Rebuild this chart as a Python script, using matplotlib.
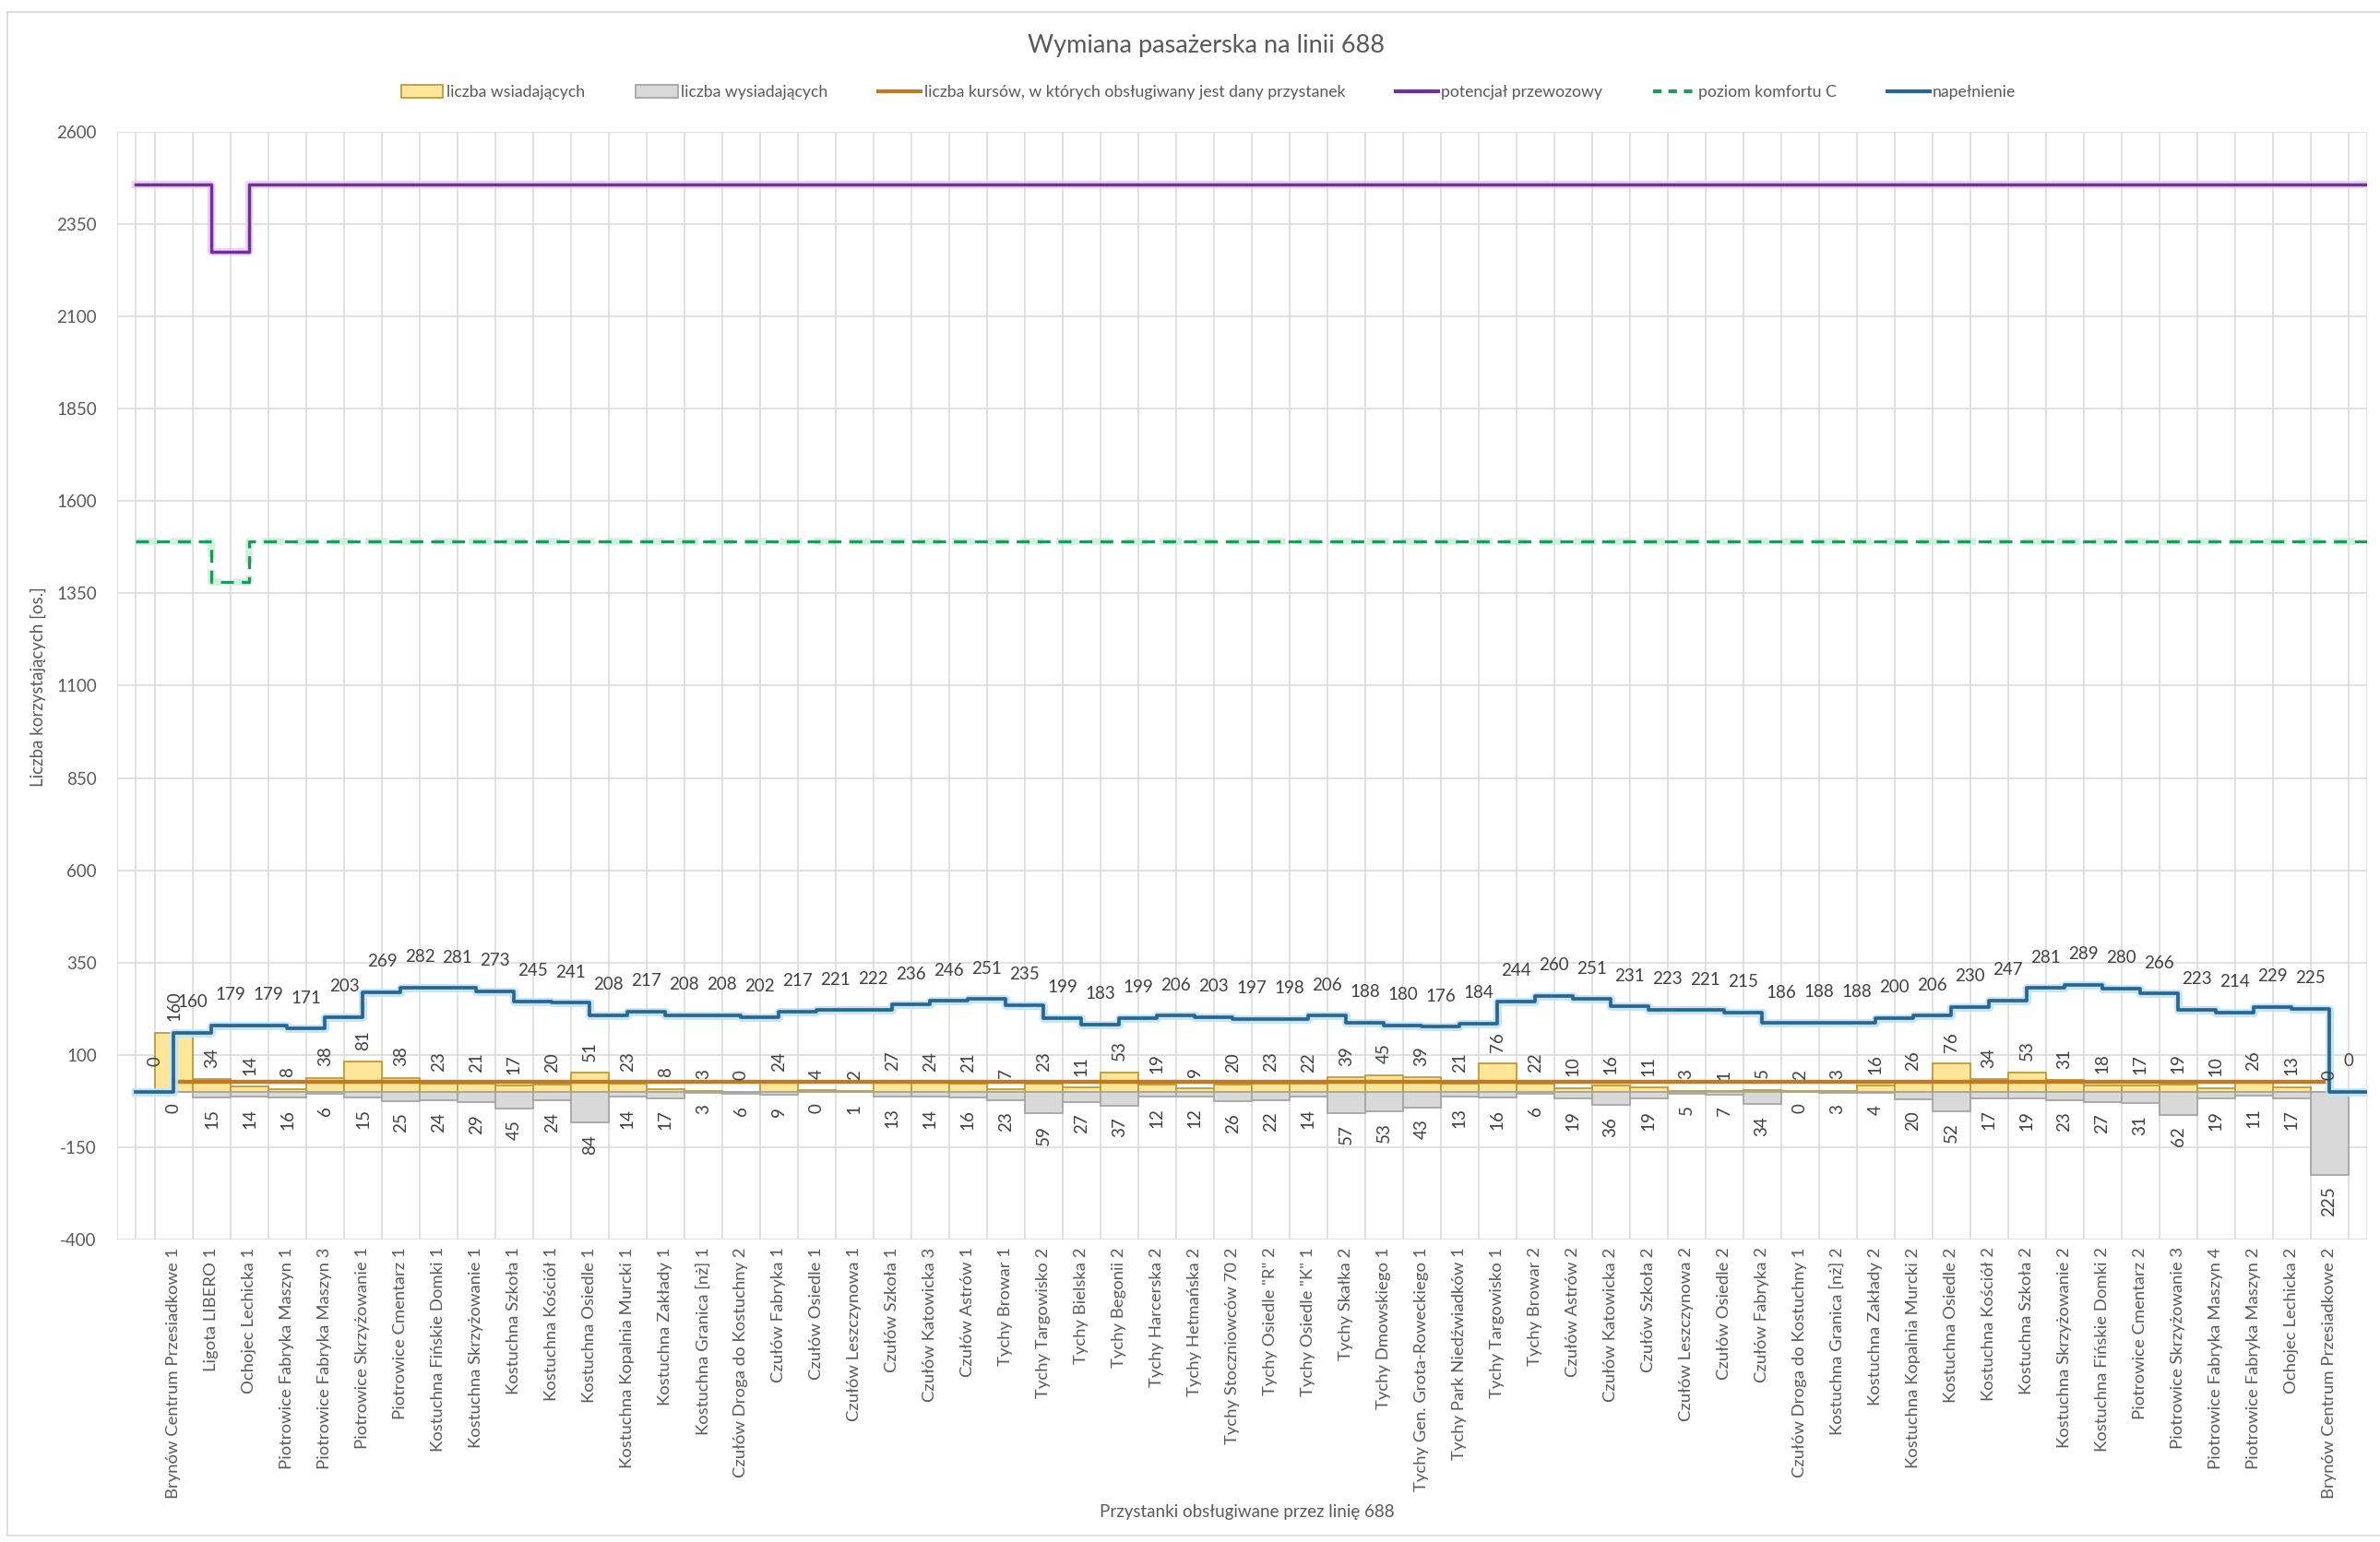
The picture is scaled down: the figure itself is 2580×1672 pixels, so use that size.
import matplotlib
matplotlib.use('Agg')
import matplotlib.pyplot as plt
import numpy as np
from matplotlib.patches import Patch
from matplotlib.lines import Line2D

plt.rcParams['font.family'] = ['Lato', 'DejaVu Sans']

# ---------------- DATA ----------------
przystanki = [
    "Brynów Centrum Przesiadkowe 1", "Ligota LIBERO 1", "Ochojec Lechicka 1",
    "Piotrowice Fabryka Maszyn 1", "Piotrowice Fabryka Maszyn 3", "Piotrowice Skrzyżowanie 1",
    "Piotrowice Cmentarz 1", "Kostuchna Fińskie Domki 1", "Kostuchna Skrzyżowanie 1",
    "Kostuchna Szkoła 1", "Kostuchna Kościół 1", "Kostuchna Osiedle 1",
    "Kostuchna Kopalnia Murcki 1", "Kostuchna Zakłady 1", "Kostuchna Granica [nż] 1",
    "Czułów Droga do Kostuchny 2", "Czułów Fabryka 1", "Czułów Osiedle 1",
    "Czułów Leszczynowa 1", "Czułów Szkoła 1", "Czułów Katowicka 3",
    "Czułów Astrów 1", "Tychy Browar 1", "Tychy Targowisko 2",
    "Tychy Bielska 2", "Tychy Begonii 2", "Tychy Harcerska 2",
    "Tychy Hetmańska 2", "Tychy Stoczniowców 70 2", "Tychy Osiedle \"R\" 2",
    "Tychy Osiedle \"K\" 1", "Tychy Skałka 2", "Tychy Dmowskiego 1",
    "Tychy Gen. Grota-Roweckiego 1", "Tychy Park Niedźwiadków 1", "Tychy Targowisko 1",
    "Tychy Browar 2", "Czułów Astrów 2", "Czułów Katowicka 2",
    "Czułów Szkoła 2", "Czułów Leszczynowa 2", "Czułów Osiedle 2",
    "Czułów Fabryka 2", "Czułów Droga do Kostuchny 1", "Kostuchna Granica [nż] 2",
    "Kostuchna Zakłady 2", "Kostuchna Kopalnia Murcki 2", "Kostuchna Osiedle 2",
    "Kostuchna Kościół 2", "Kostuchna Szkoła 2", "Kostuchna Skrzyżowanie 2",
    "Kostuchna Fińskie Domki 2", "Piotrowice Cmentarz 2", "Piotrowice Skrzyżowanie 3",
    "Piotrowice Fabryka Maszyn 4", "Piotrowice Fabryka Maszyn 2", "Ochojec Lechicka 2",
    "Brynów Centrum Przesiadkowe 2",
]

wsiadajacy = [160, 34, 14, 8, 38, 81, 38, 23, 21, 17, 20, 51, 23, 8, 3,
              0, 24, 4, 2, 27, 24, 21, 7, 23, 11, 53, 19, 9, 20, 23,
              22, 39, 45, 39, 21, 76, 22, 10, 16, 11, 3, 1, 5, 2, 3,
              16, 26, 76, 34, 53, 31, 18, 17, 19, 10, 26, 13, 0]

wysiadajacy = [0, 15, 14, 16, 6, 15, 25, 24, 29, 45, 24, 84, 14, 17, 3,
               6, 9, 0, 1, 13, 14, 16, 23, 59, 27, 37, 12, 12, 26, 22,
               14, 57, 53, 43, 13, 16, 6, 19, 36, 19, 5, 7, 34, 0, 3,
               4, 20, 52, 17, 19, 23, 27, 31, 62, 19, 11, 17, 225]

# load on the segment after each stop
napelnienie = [160, 179, 179, 171, 203, 269, 282, 281, 273, 245, 241, 208, 217, 208, 208,
               202, 217, 221, 222, 236, 246, 251, 235, 199, 183, 199, 206, 203, 197, 198,
               206, 188, 180, 176, 184, 244, 260, 251, 231, 223, 221, 215, 186, 188, 188,
               200, 206, 230, 247, 281, 289, 280, 266, 223, 214, 229, 225, 0]
napelnienie_przed = 0  # before the first stop

kursy = [27, 27, 27, 27, 27, 27, 27, 27, 27, 27, 27, 27, 27, 27, 27,
         27, 27, 27, 27, 27, 27, 27, 27, 27, 27, 27, 27, 27, 27, 27,
         27, 27, 27, 27, 27, 27, 27, 27, 27, 27, 27, 27, 27, 27, 27,
         27, 27, 27, 27, 27, 27, 27, 27, 27, 27, 27, 27, 27]

# per segment after each stop
potencjal = [2457, 2275, 2457, 2457, 2457, 2457, 2457, 2457, 2457, 2457, 2457, 2457, 2457, 2457, 2457,
             2457, 2457, 2457, 2457, 2457, 2457, 2457, 2457, 2457, 2457, 2457, 2457, 2457, 2457, 2457,
             2457, 2457, 2457, 2457, 2457, 2457, 2457, 2457, 2457, 2457, 2457, 2457, 2457, 2457, 2457,
             2457, 2457, 2457, 2457, 2457, 2457, 2457, 2457, 2457, 2457, 2457, 2457, 2457]
komfort_c = [1490, 1380, 1490, 1490, 1490, 1490, 1490, 1490, 1490, 1490, 1490, 1490, 1490, 1490, 1490,
             1490, 1490, 1490, 1490, 1490, 1490, 1490, 1490, 1490, 1490, 1490, 1490, 1490, 1490, 1490,
             1490, 1490, 1490, 1490, 1490, 1490, 1490, 1490, 1490, 1490, 1490, 1490, 1490, 1490, 1490,
             1490, 1490, 1490, 1490, 1490, 1490, 1490, 1490, 1490, 1490, 1490, 1490, 1490]

y_ticks = [-400, -150, 100, 350, 600, 850, 1100, 1350, 1600, 1850, 2100, 2350, 2600]

# ---------------- FIGURE ----------------
W, H = 2580, 1672
fig = plt.figure(figsize=(W / 100, H / 100), dpi=100)
ax = fig.add_axes([127 / W, 1 - 1344 / H, (2566 - 127) / W, (1344 - 143) / H])

n = len(przystanki)
x = np.arange(n)

txt_col = '#595959'
lab_col = '#404040'

# bars
ax.bar(x, wsiadajacy, width=1.0, color='#FFE699', edgecolor='#BF9A3C', linewidth=1.3, zorder=2)
ax.bar(x, [-v for v in wysiadajacy], width=1.0, color='#D9D9D9', edgecolor='#A6A6A6',
       linewidth=1.3, zorder=2)

# orange: number of courses
ax.plot(x, kursy, color='#BF7B22', lw=3.2, zorder=3, solid_capstyle='butt')

# step lines (segments)
seg_x = np.arange(-1, n + 1)
pot_vals = [potencjal[0]] + potencjal + [potencjal[-1]]
kom_vals = [komfort_c[0]] + komfort_c + [komfort_c[-1]]
nap_vals = [napelnienie_przed] + napelnienie + [napelnienie[-1]]

ax.step(seg_x, pot_vals, where='post', color='#EAC8EE', lw=6, zorder=4, alpha=0.8)
ax.step(seg_x, pot_vals, where='post', color='#7030A0', lw=2.5, zorder=4.1)

ax.step(seg_x, kom_vals, where='post', color='#C5EED8', lw=5.5, zorder=4, dashes=(3.2, 1.7), alpha=0.8)
ax.step(seg_x, kom_vals, where='post', color='#1F9A5C', lw=2.4, zorder=4.1, dashes=(4.2, 2.6))

ax.step(seg_x, nap_vals, where='post', color='#BFE4F6', lw=6.5, zorder=5, alpha=0.9)
ax.step(seg_x, nap_vals, where='post', color='#2B6690', lw=2.7, zorder=5.1)

# data labels
fs_lab = 13.5
for i in range(n):
    ax.annotate(str(wsiadajacy[i]), (x[i], wsiadajacy[i]), xytext=(0, 9), textcoords='offset points',
                rotation=90, ha='center', va='bottom', fontsize=fs_lab, color=lab_col, zorder=6)
    ax.annotate(str(wysiadajacy[i]), (x[i], -wysiadajacy[i]), xytext=(0, -9), textcoords='offset points',
                rotation=90, ha='center', va='top', fontsize=fs_lab, color=lab_col, zorder=6)
    ax.annotate(str(napelnienie[i]), (x[i] + 0.5, napelnienie[i]), xytext=(0, 24),
                textcoords='offset points', ha='center', va='center', fontsize=fs_lab,
                color=lab_col, zorder=6)
ax.annotate(str(napelnienie_przed), (-0.5, napelnienie_przed), xytext=(0, 24),
            textcoords='offset points', rotation=90, ha='center', va='center',
            fontsize=fs_lab, color=lab_col, zorder=6)

# axes
ax.set_xlim(-1.5, 58.0)
ax.set_ylim(-400, 2600)
ax.set_yticks(y_ticks)
ax.set_yticklabels([str(v) for v in y_ticks], fontsize=13.5, color=txt_col)
ax.set_xticks(x)
ax.set_xticklabels(przystanki, rotation=90, fontsize=13.3, color=txt_col, va='top', ha='center')
ax.set_xticks(np.arange(-1.5, 58.01, 0.5), minor=True)
ax.tick_params(axis='both', which='both', length=0)
ax.tick_params(axis='x', which='major', pad=6)
ax.tick_params(axis='y', pad=16)
ax.grid(axis='y', which='major', color='#D9D9D9', lw=1.1, zorder=0)
ax.grid(axis='x', which='minor', color='#D9D9D9', lw=1.1, zorder=0)
ax.set_axisbelow(True)
for s in ax.spines.values():
    s.set_visible(False)

# titles
fig.text(1308 / W, 1 - 50 / H, 'Wymiana pasażerska na linii 688', ha='center', va='center',
         fontsize=19.5, color=txt_col)
fig.text(41 / W, 1 - 745 / H, 'Liczba korzystających [os.]', rotation=90, ha='center', va='center',
         fontsize=13.5, color=txt_col)
fig.text(1352 / W, 1 - 1640 / H, 'Przystanki obsługiwane przez linię 688', ha='center', va='center',
         fontsize=13.5, color=txt_col)

# legend
handles = [
    Patch(facecolor='#FFE699', edgecolor='#BF9A3C', linewidth=1.3, label='liczba wsiadających'),
    Patch(facecolor='#D9D9D9', edgecolor='#A6A6A6', linewidth=1.3, label='liczba wysiadających'),
    Line2D([], [], color='#BF7B22', lw=3, label='liczba kursów, w których obsługiwany jest dany przystanek'),
    Line2D([], [], color='#7030A0', lw=3, label='potencjał przewozowy'),
    Line2D([], [], color='#1F9A5C', lw=3, dashes=(2.2, 1.8), label='poziom komfortu C'),
    Line2D([], [], color='#2B6690', lw=3, label='napełnienie'),
]
leg = fig.legend(handles=handles, loc='center', bbox_to_anchor=(1310 / W, 1 - 100 / H), ncol=6,
                 frameon=False, fontsize=12.7, handlelength=2.6, handleheight=0.9,
                 handletextpad=0.2, columnspacing=3.1)
for t in leg.get_texts():
    t.set_color(txt_col)

# chart border
fig.add_artist(Line2D([8 / W, 8 / W], [1 - 13 / H, 1 - 1665 / H], color='#D9D9D9', lw=1.2,
                      transform=fig.transFigure))
fig.add_artist(Line2D([8 / W, 1], [1 - 13 / H, 1 - 13 / H], color='#D9D9D9', lw=1.2,
                      transform=fig.transFigure))
fig.add_artist(Line2D([8 / W, 1], [1 - 1665 / H, 1 - 1665 / H], color='#D9D9D9', lw=1.2,
                      transform=fig.transFigure))

fig.savefig('out.png', dpi=100, facecolor='white')
